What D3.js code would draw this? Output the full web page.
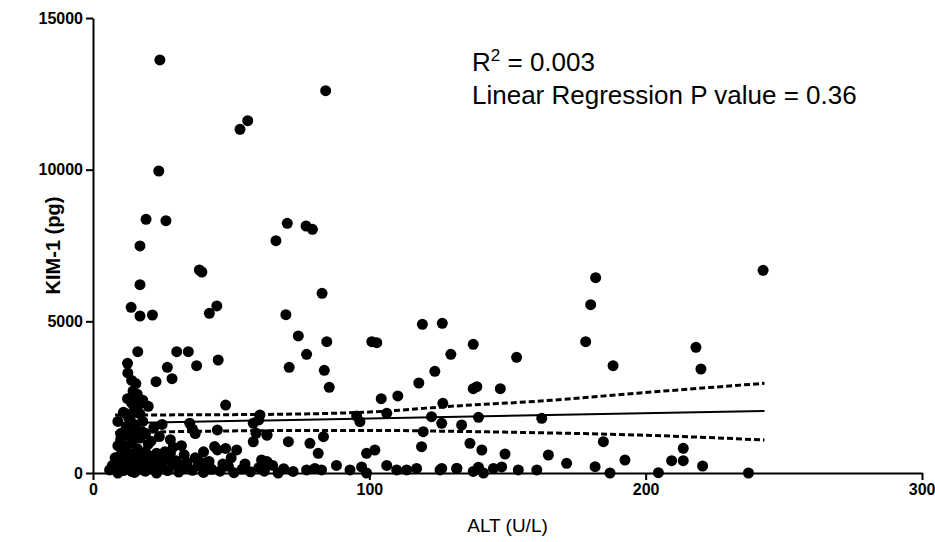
<!DOCTYPE html>
<html>
<head>
<meta charset="utf-8">
<script src="https://cdn.jsdelivr.net/npm/d3@7"></script>
<style>
  body { margin: 0; background: #fff; }
  svg { display: block; font-family: "Liberation Sans", Arial, sans-serif; }
</style>
</head>
<body>
<div id="chart"></div>
<script>
// ALT (U/L) values of each subject
const altValues = [
  24.2, 23.8, 53.2, 56, 84.2,
  19.2, 26.4, 17, 17, 13.8, 17, 21.5, 38.5, 39.4, 42.1, 44.8,
  16.2, 30.3, 34.5, 12.5, 26.9, 37.5, 45.3, 12.6, 14, 15.5, 22.8, 28.6,
  66.2, 70.3, 77.1, 79.4, 82.9, 69.8, 74.3, 84.6, 77.3, 71, 83.7, 85.5,
  100.9, 102.7, 119.2, 126.4, 129.5, 137.6, 153.3, 181.9, 180.1, 178.3, 188.2,
  123.7, 117.9, 137.6, 138.9, 147.4, 104.3, 110.3, 126.6,
  242.5, 218.2, 220,
  // dense cluster, left
  8, 9, 9, 10, 10, 11, 11, 12, 12, 12, 13, 13, 13, 14, 14, 14, 15, 15, 15,
  16, 16, 16, 17, 17, 17, 18, 18, 18, 19, 19, 20, 12.5, 14.5, 13.5, 15, 16.5,
  21, 22, 23, 24, 25, 26, 28, 30, 32, 35, 36, 37, 40, 42, 45, 44, 45, 48, 48,
  52, 58, 60, 59, 58, 61, 63, 63, 55, 50, 33, 27, 21, 29,
  6, 7, 9, 11, 13, 15, 17, 19, 21, 23, 25, 27, 29, 31, 33, 36, 38, 40, 43,
  46, 49, 51, 54, 57, 60, 62, 65, 67, 69, 10, 14, 18, 22, 26, 30, 34, 38, 42, 47,
  8, 11, 13, 16, 19, 24, 28, 32, 37, 41, 10, 12, 15, 20, 9, 14, 18, 23,
  // middle
  60.4, 95.4, 96.6, 106.3, 122.5, 126.2, 62.9, 70.7, 78.5, 83.4, 119.5, 118.9,
  81.5, 99, 102, 62.9,
  72.4, 77.3, 80.3, 82.7, 88.1, 93, 97.2, 99, 106.3, 109.9, 113.5, 117.1, 125.6, 131.7,
  139.5, 162.4, 133.4, 184.7, 136.4, 140.7, 149.1, 164.8, 171.4, 192.5, 181.7,
  126.2, 131.6, 137.6, 139.5, 141.3, 144.9, 147.9, 153.9, 160.6, 187.1,
  204.6, 209.4, 213.6, 213.6, 220.6, 237.2
];

// KIM-1 (pg) values, same order as altValues
const kimValues = [
  13616, 9956, 11331, 11615, 12604,
  8364, 8318, 7484, 6208, 5462, 5176, 5209, 6692, 6626, 5265, 5506,
  3999, 3999, 3999, 3616, 3485, 3538, 3725, 3300, 3050, 2950, 3010, 3110,
  7659, 8231, 8143, 8033, 5924, 5220, 4517, 4330, 3912, 3485, 3386, 2825,
  4330, 4297, 4901, 4934, 3912, 4242, 3814, 6439, 5549, 4330, 3538,
  3352, 2967, 2780, 2846, 2780, 2450, 2539, 2297,
  6682, 4143, 3429,
  150, 300, 1700, 600, 1100, 2000, 400, 1500, 900, 200, 1800, 1250, 650, 2300, 1000, 50, 1600, 2150, 350,
  1400, 800, 2600, 1950, 1150, 500, 2400, 1700, 100, 1300, 700, 2200, 2450, 2700, 1850, 2500, 2250,
  1050, 1500, 300, 1200, 1600, 700, 1100, 400, 900, 1640, 1450, 1300, 700, 200, 1420, 870, 760, 810, 2240,
  760, 1640, 1750, 1310, 1030, 430, 1250, 370, 300, 500, 600, 450, 550, 850,
  100, 250, 0, 80, 180, 20, 250, 60, 150, 0, 200, 80, 280, 30, 150, 90, 250, 20, 120,
  60, 220, 10, 130, 40, 180, 60, 250, 0, 140, 350, 420, 300, 380, 450, 250, 350, 420, 380, 300,
  500, 750, 350, 600, 450, 550, 650, 250, 500, 350, 1300, 1950, 1200, 950, 900, 1550, 1350, 650,
  1912, 1879, 1692, 1968, 1857, 1638, 1253, 1033, 979, 1197, 1362, 868,
  650, 650, 758, 373,
  50, 100, 150, 100, 250, 100, 200, 0, 250, 100, 100, 150, 100, 150,
  1836, 1803, 1582, 1033, 979, 758, 626, 593, 320, 429, 208,
  150, 150, 50, 190, 0, 150, 200, 100, 100, 0,
  10, 406, 813, 406, 231, 0
];

// fitted line and its 95% confidence band
const fitAlt = [8, 243];
const fitKim = [1640, 2044];
const bandAlt = [8, 60, 100, 133, 160, 198, 243];
const bandUpper = [1912, 1930, 2010, 2220, 2360, 2640, 2957];
const bandLower = [1329, 1395, 1405, 1370, 1330, 1250, 1088];

const xTicks = [0, 100, 200, 300];
const yTicks = [0, 5000, 10000, 15000];

const width = 935, height = 542;
const margin = { top: 18, right: 13, bottom: 69, left: 93 };

const svg = d3.select("#chart")
  .append("svg")
  .attr("width", width)
  .attr("height", height);

const x = d3.scaleLinear()
  .domain([0, 300])
  .range([margin.left, width - margin.right]);

const y = d3.scaleLinear()
  .domain([0, 15000])
  .range([height - margin.bottom, margin.top]);

// Axes
const xAxis = svg.append("g")
  .attr("transform", `translate(0,${height - margin.bottom})`)
  .call(d3.axisBottom(x).tickValues(xTicks).tickFormat(d3.format("d"))
    .tickSize(7).tickSizeOuter(0).tickPadding(4));

const yAxis = svg.append("g")
  .attr("transform", `translate(${margin.left},0)`)
  .call(d3.axisLeft(y).tickValues(yTicks).tickFormat(d3.format("d"))
    .tickSize(7).tickSizeOuter(0).tickPadding(3));

[xAxis, yAxis].forEach(ax => {
  ax.select(".domain").attr("stroke", "#000").attr("stroke-width", 2);
  ax.selectAll(".tick line").attr("stroke", "#000").attr("stroke-width", 2);
  ax.selectAll(".tick text")
    .attr("fill", "#000")
    .attr("font-family", "Liberation Sans, Arial, sans-serif")
    .attr("font-size", 16)
    .attr("font-weight", "bold");
});

// keep the last x label inside the frame
xAxis.selectAll(".tick text").filter(d => d === 300).attr("text-anchor", "end").attr("dx", 13);

// Axis titles
svg.append("text")
  .attr("x", x(150))
  .attr("y", 532)
  .attr("text-anchor", "middle")
  .attr("font-size", 19)
  .text("ALT (U/L)");

svg.append("text")
  .attr("transform", `translate(60,${y(7500)}) rotate(-90)`)
  .attr("text-anchor", "middle")
  .attr("font-size", 20)
  .attr("font-weight", "bold")
  .text("KIM-1 (pg)");

// Points
const points = altValues.map((a, i) => ({ alt: a, kim: kimValues[i] }));

svg.append("g")
  .selectAll("circle")
  .data(points)
  .enter().append("circle")
  .attr("cx", d => x(d.alt))
  .attr("cy", d => y(d.kim))
  .attr("r", 5.5)
  .attr("fill", "#000");

// Regression line
const line = d3.line()
  .x(d => x(d[0]))
  .y(d => y(d[1]));

svg.append("path")
  .datum(fitAlt.map((a, i) => [a, fitKim[i]]))
  .attr("fill", "none")
  .attr("stroke", "#000")
  .attr("stroke-width", 2)
  .attr("d", line);

// Confidence band
[bandUpper, bandLower].forEach(band => {
  svg.append("path")
    .datum(bandAlt.map((a, i) => [a, band[i]]))
    .attr("fill", "none")
    .attr("stroke", "#000")
    .attr("stroke-width", 3)
    .attr("stroke-dasharray", "6,3")
    .attr("d", line.curve(d3.curveMonotoneX));
});

// Annotation
const note = svg.append("text")
  .attr("x", 472)
  .attr("y", 71)
  .attr("font-size", 26);
note.append("tspan").text("R");
note.append("tspan").attr("dy", -10).attr("font-size", 17).text("2");
note.append("tspan").attr("dy", 10).text(" = 0.003");

svg.append("text")
  .attr("x", 472)
  .attr("y", 104)
  .attr("font-size", 26)
  .text("Linear Regression P value = 0.36");
</script>
</body>
</html>
